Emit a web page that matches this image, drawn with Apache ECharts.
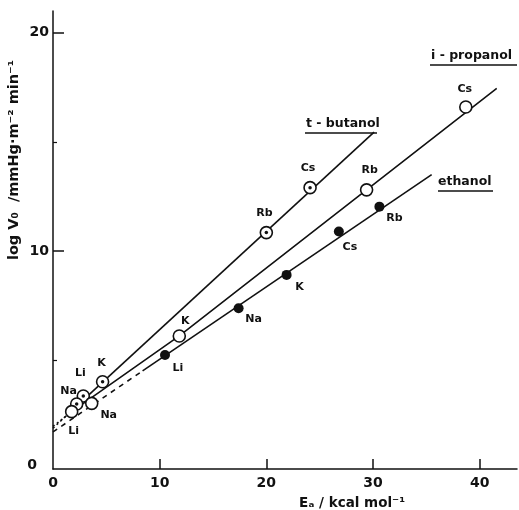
<!DOCTYPE html>
<html>
<head>
<meta charset="utf-8">
<script src="https://cdn.jsdelivr.net/npm/echarts@6/dist/echarts.min.js"></script>
<style>
  html, body { margin: 0; padding: 0; background: #fff; }
  #chart { width: 519px; height: 510px; }
</style>
</head>
<body>
<div id="chart"></div>
<script>
var tButanolNames = ['Li', 'Na', 'K', 'Rb', 'Cs'];
var tButanolEa = [2.84, 2.22, 4.65, 20.0, 24.1];
var tButanolLogV = [3.35, 2.98, 4.0, 10.84, 12.9];

var iPropanolNames = ['Li', 'Na', 'K', 'Rb', 'Cs'];
var iPropanolEa = [1.75, 3.63, 11.84, 29.4, 38.7];
var iPropanolLogV = [2.63, 3.01, 6.1, 12.8, 16.6];

var ethanolNames = ['Li', 'Na', 'K', 'Cs', 'Rb'];
var ethanolEa = [10.5, 17.4, 21.9, 26.8, 30.6];
var ethanolLogV = [5.23, 7.37, 8.9, 10.89, 12.03];

// drawn lines (solid part) and their extrapolation to Ea = 0
var tButanolFitEa = [1.5, 30.1];
var tButanolFitLogV = [2.56, 15.45];
var tButanolExtEa = [0, 1.5];
var tButanolExtLogV = [1.87, 2.56];

var iPropanolFitEa = [1.75, 11.84, 41.6];
var iPropanolFitLogV = [2.63, 6.1, 17.45];
var iPropanolExtEa = [0, 1.75];
var iPropanolExtLogV = [1.95, 2.63];

var ethanolFitEa = [8.4, 35.5];
var ethanolFitLogV = [4.5, 13.5];
var ethanolExtEa = [0, 8.4];
var ethanolExtLogV = [1.7, 4.5];

var xTicks = [0, 10, 20, 30, 40];
var yTicks = [0, 10, 20];
var yMinorTicks = [5, 15];

var ink = '#111';
var font = 'DejaVu Sans';

function zip(xs, ys) {
  return xs.map(function (x, i) { return [x, ys[i]]; });
}

// label offsets (px) for each point, same order as the names
function points(xs, ys, names, offsets) {
  return xs.map(function (x, i) {
    return {
      value: [x, ys[i]],
      name: names[i],
      label: { offset: offsets[i] }
    };
  });
}

var pointLabel = {
  show: true,
  position: 'inside',
  formatter: '{b}',
  color: ink,
  opacity: 1,
  textBorderWidth: 0,
  textBorderColor: 'transparent',
  fontFamily: font,
  fontWeight: 'bold',
  fontSize: 11
};

function lineSeries(xs, ys, type) {
  return {
    type: 'line',
    data: zip(xs, ys),
    symbol: 'none',
    silent: true,
    z: 2,
    lineStyle: { color: ink, width: 1.6, type: type || 'solid' }
  };
}

var openStyle = { color: '#fff', borderColor: ink, borderWidth: 1.6, opacity: 1 };

var option = {
  animation: false,
  backgroundColor: '#fff',
  grid: { left: 53, right: 2, top: 11, bottom: 41 },
  xAxis: {
    type: 'value',
    min: 0,
    max: 43.5,
    interval: 10,
    splitLine: { show: false },
    axisLine: { lineStyle: { color: ink, width: 1.5 } },
    axisTick: { inside: true, length: 10, customValues: [10, 20, 30, 40], lineStyle: { color: ink, width: 1.5 } },
    axisLabel: {
      customValues: xTicks,
      margin: 7,
      color: ink,
      fontFamily: font,
      fontSize: 14,
      fontWeight: 'bold'
    }
  },
  yAxis: [{
    type: 'value',
    position: 'left',
    min: 0,
    max: 21,
    interval: 10,
    splitLine: { show: false },
    axisLine: { lineStyle: { color: ink, width: 1.5 } },
    axisTick: { inside: true, length: 11, customValues: [10, 20], lineStyle: { color: ink, width: 1.5 } },
    axisLabel: {
      customValues: yTicks,
      margin: 4,
      color: ink,
      fontFamily: font,
      fontSize: 14,
      fontWeight: 'bold',
      formatter: function (v) { return v === 0 ? '{z|0}' : String(v); },
      rich: {
        z: { fontFamily: font, fontSize: 14, fontWeight: 'bold', color: ink, padding: [0, 12, 8, 0] }
      }
    }
  }, {
    // minor ticks at 5 and 15
    type: 'value',
    position: 'left',
    offset: 0,
    min: 0,
    max: 21,
    splitLine: { show: false },
    axisLine: { show: false },
    axisLabel: { show: false },
    axisTick: { inside: true, length: 4, customValues: yMinorTicks, lineStyle: { color: ink, width: 1.2 } }
  }],
  series: [
    lineSeries(tButanolFitEa, tButanolFitLogV),
    lineSeries(tButanolExtEa, tButanolExtLogV, [2, 3]),
    lineSeries(iPropanolFitEa, iPropanolFitLogV),
    lineSeries(iPropanolExtEa, iPropanolExtLogV, [2, 3]),
    lineSeries(ethanolFitEa, ethanolFitLogV),
    lineSeries(ethanolExtEa, ethanolExtLogV, [5, 5]),
    {
      // t-butanol: circle with a dot
      type: 'scatter',
      symbol: 'circle',
      symbolSize: 12,
      z: 3,
      itemStyle: openStyle,
      label: pointLabel,
      data: points(tButanolEa, tButanolLogV, tButanolNames,
        [[-3, -23], [-8, -13], [-1, -19], [-2, -19], [-2, -20]])
    },
    {
      type: 'scatter',
      symbol: 'circle',
      symbolSize: 3.5,
      z: 4,
      silent: true,
      itemStyle: { color: ink, opacity: 1 },
      data: zip(tButanolEa, tButanolLogV)
    },
    {
      // i-propanol: open circle
      type: 'scatter',
      symbol: 'circle',
      symbolSize: 12,
      z: 3,
      itemStyle: openStyle,
      label: pointLabel,
      data: points(iPropanolEa, iPropanolLogV, iPropanolNames,
        [[2, 19], [17, 12], [6, -15], [3, -20], [-1, -18]])
    },
    {
      // ethanol: filled circle
      type: 'scatter',
      symbol: 'circle',
      symbolSize: 10,
      z: 3,
      itemStyle: { color: ink, opacity: 1 },
      label: pointLabel,
      data: points(ethanolEa, ethanolLogV, ethanolNames,
        [[13, 13], [15, 11], [13, 12], [11, 16], [15, 12]])
    }
  ],
  graphic: [
    {
      type: 'text', left: 306, top: 117,
      style: { text: 't - butanol', fill: ink, font: 'bold 12.5px ' + font }
    },
    { type: 'line', shape: { x1: 305, y1: 133, x2: 377, y2: 133 }, style: { stroke: ink, lineWidth: 1.5 } },
    {
      type: 'text', left: 431, top: 49,
      style: { text: 'i - propanol', fill: ink, font: 'bold 12.5px ' + font }
    },
    { type: 'line', shape: { x1: 430, y1: 65, x2: 517, y2: 65 }, style: { stroke: ink, lineWidth: 1.5 } },
    {
      type: 'text', left: 438, top: 175,
      style: { text: 'ethanol', fill: ink, font: 'bold 12.5px ' + font }
    },
    { type: 'line', shape: { x1: 438, y1: 191, x2: 493, y2: 191 }, style: { stroke: ink, lineWidth: 1.5 } },
    {
      type: 'text', x: 352, y: 503,
      style: { text: 'Eₐ / kcal mol⁻¹', fill: ink, font: 'bold 13.5px ' + font, textAlign: 'center', textVerticalAlign: 'middle' }
    },
    {
      type: 'text', x: 14, y: 160, rotation: Math.PI / 2,
      style: { text: 'log V₀  /mmHg·m⁻² min⁻¹', fill: ink, font: 'bold 14.5px ' + font, textAlign: 'center', textVerticalAlign: 'middle' }
    }
  ]
};

var chart = echarts.init(document.getElementById('chart'), null, { renderer: 'canvas' });
chart.setOption(option);
</script>
</body>
</html>
